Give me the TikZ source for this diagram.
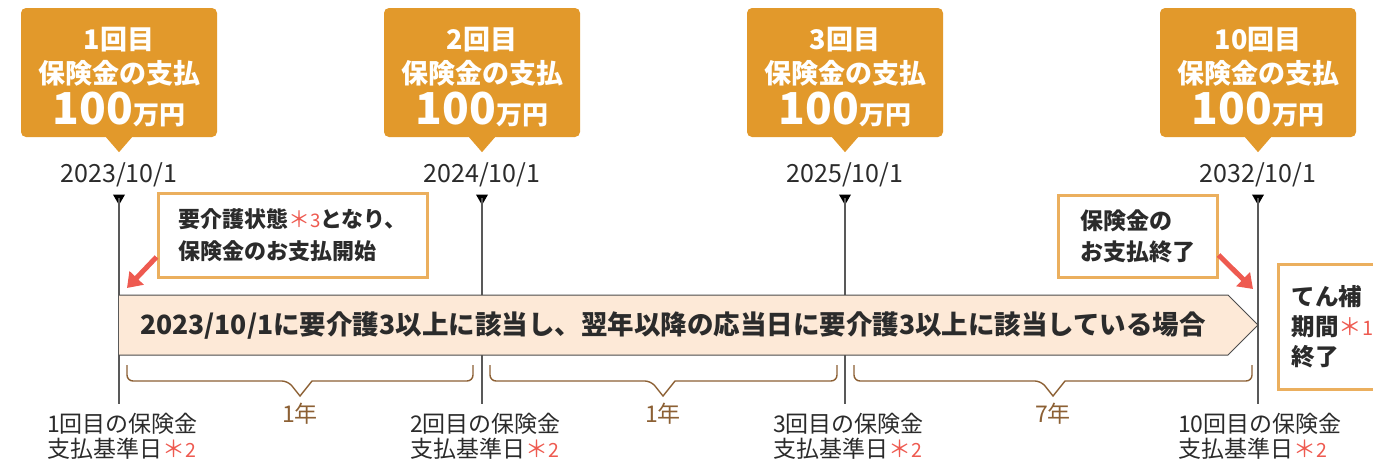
\documentclass[tikz,border=0pt]{standalone}
\usepackage{fontspec}
\setmainfont{Noto Sans CJK JP}
\usepackage{tikz}
\usetikzlibrary{arrows.meta,shapes,calc}

\definecolor{paycol}{HTML}{E2992B}
\definecolor{boxcol}{HTML}{EBAF5E}
\definecolor{redcol}{HTML}{EE5A50}
\definecolor{bandcol}{HTML}{FDE9D7}
\definecolor{bracecol}{HTML}{8C6034}
\definecolor{txtcol}{HTML}{2B2B2B}
\newcommand{\kome}[1]{{\mdseries\color{redcol}＊\scalebox{0.85}{#1}}}
\newcommand{\yen}{\\[5pt]{\fontsize{44}{34}\selectfont 100}{\fontsize{26}{34}\selectfont 万円}}

\begin{document}
\begin{tikzpicture}[x=1pt,y=-1pt,
  pay/.style={rectangle,fill=paycol,rounded corners=5pt,text=white,align=center,
    font=\bfseries\fontsize{27}{34}\selectfont,minimum width=196pt,minimum height=129pt,inner sep=0pt},
  date/.style={text=txtcol,font=\fontsize{25}{28}\selectfont},
  tri/.style={regular polygon,regular polygon sides=3,shape border rotate=180,fill=black,inner sep=0pt,minimum size=14pt},
  vline/.style={draw=black!65,line width=1.2pt},
  msgbox/.style={draw=boxcol,line width=3pt,fill=white,align=left,text=txtcol},
  redarr/.style={draw=redcol,line width=5pt,-{Triangle[length=14pt,width=19pt]}},
  brace/.style={draw=bracecol,line width=1.4pt},
  year/.style={text=bracecol,font=\fontsize{23}{26}\selectfont},
  base/.style={anchor=west,align=left,inner xsep=0pt,text=txtcol,font=\fontsize{23}{25}\selectfont},
]
\useasboundingbox (0,0) rectangle (1373,464);

% payment callouts
\node[pay] (pay1) at (119,72.5) {\rule{0pt}{31pt}1回目\\保険金の支払\yen};
\node[pay] (pay2) at (482,72.5) {\rule{0pt}{31pt}2回目\\保険金の支払\yen};
\node[pay] (pay3) at (845,72.5) {\rule{0pt}{31pt}3回目\\保険金の支払\yen};
\node[pay] (pay4) at (1258,72.5) {\rule{0pt}{31pt}10回目\\保険金の支払\yen};
\foreach \p in {pay1,pay2,pay3,pay4}
  \fill[paycol] ([xshift=-13pt]\p.south) -- ([yshift=-15pt]\p.south) -- ([xshift=13pt]\p.south) -- cycle;

% dates and time line
\node[date] (d1) at (119,175) {2023/10/1};
\node[date] (d2) at (482,175) {2024/10/1};
\node[date] (d3) at (845,175) {2025/10/1};
\node[date] (d4) at (1258,175) {2032/10/1};
\node[tri] (t1) at (119,198) {};
\node[tri] (t2) at (482,198) {};
\node[tri] (t3) at (845,198) {};
\node[tri] (t4) at (1258,198) {};
\coordinate (b1) at (119,404);
\coordinate (b2) at (482,404);
\coordinate (b3) at (845,404);
\coordinate (b4) at (1258,404);
\draw[vline] (t1.center) -- (b1);
\draw[vline] (t2.center) -- (b2);
\draw[vline] (t3.center) -- (b3);
\draw[vline] (t4.center) -- (b4);

% band
\filldraw[fill=bandcol,draw=black!70,line width=1pt] (119,295) -- (1228,295) -- (1258,325) -- (1228,355) -- (119,355);
\node[text=txtcol,font=\bfseries\fontsize{26.5}{30}\selectfont] (case) at (673,326)
  {2023/10/1に要介護3以上に該当し、翌年以降の応当日に要介護3以上に該当している場合};

% boxes
\node[msgbox,minimum width=269pt,minimum height=84pt,font=\bfseries\fontsize{22}{32}\selectfont] (start) at (292.5,235)
  {要介護状態\kome{3}となり、\\保険金のお支払開始};
\node[msgbox,minimum width=159pt,minimum height=82pt,font=\bfseries\fontsize{23}{31}\selectfont] (finish) at (1137.5,236)
  {保険金の\\お支払終了};
\node[msgbox,anchor=north west,minimum width=108pt,minimum height=125pt,font=\bfseries\fontsize{23.5}{30}\selectfont] (cover) at (1277,263)
  {てん補\\期間\kome{1}\\終了};
\coordinate (a1) at (127,288);
\coordinate (a2) at (1253,289);
\draw[redarr] ([yshift=-22pt]start.west) -- (a1);
\draw[redarr] ([yshift=-19pt]finish.east) -- (a2);

% braces
\draw[brace] (127,365) [rounded corners=6pt] -- (127,381) -- (288,381) [sharp corners] -- (300,396) -- (312,381) [rounded corners=6pt] -- (473,381) -- (473,365);
\draw[brace] (490,365) [rounded corners=6pt] -- (490,381) -- (651,381) [sharp corners] -- (663,396) -- (675,381) [rounded corners=6pt] -- (837,381) -- (837,365);
\draw[brace] (854,365) [rounded corners=6pt] -- (854,381) -- (1041,381) [sharp corners] -- (1053,396) -- (1065,381) [rounded corners=6pt] -- (1252,381) -- (1252,365);
\node[year] (y1) at (300,414) {1年};
\node[year] (y2) at (663,414) {1年};
\node[year] (y3) at (1053,414) {7年};

% payment reference days
\node[base] (r1) at (47,436) {1回目の保険金\\支払基準日\kome{2}};
\node[base] (r2) at (410,436) {2回目の保険金\\支払基準日\kome{2}};
\node[base] (r3) at (773,436) {3回目の保険金\\支払基準日\kome{2}};
\node[base] (r4) at (1178,436) {10回目の保険金\\支払基準日\kome{2}};
\end{tikzpicture}
\end{document}
